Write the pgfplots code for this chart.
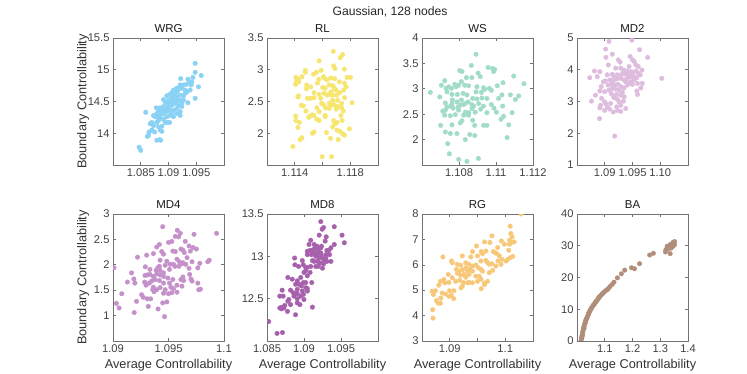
\documentclass[border=0pt]{standalone}
\usepackage{fontspec}
\setmainfont{Liberation Sans}
\usepackage{pgfplots}
\pgfplotsset{compat=1.18}
\definecolor{cWRG}{RGB}{138,210,245}
\definecolor{cRL}{RGB}{246,230,112}
\definecolor{cWS}{RGB}{160,220,198}
\definecolor{cMD2}{RGB}{222,188,222}
\definecolor{cMD4}{RGB}{196,145,202}
\definecolor{cMD8}{RGB}{166,96,172}
\definecolor{cRG}{RGB}{248,200,122}
\definecolor{cBA}{RGB}{176,142,122}
\pgfplotsset{
 base/.style={
  scale only axis, width=111bp, height=127bp, anchor=south west,
  axis line style={draw=black!55, line width=0.6bp},
  every tick/.style={black!55, line width=0.6bp},
  major tick length=3bp,
  tick align=inside, tick pos=both,
  xticklabel pos=lower, yticklabel pos=left,
  ticklabel style={font=\fontsize{11.2}{12}\selectfont, text=black!75},
  title style={font=\fontsize{11.5}{13}\selectfont, text=black!90, yshift=-4bp},
  label style={font=\fontsize{12.8}{14}\selectfont, text=black!80},
  ylabel style={at={(axis description cs:-0.27,0.5)}, anchor=center},
  xlabel style={at={(axis description cs:0.5,-0.19)}, anchor=center},
  clip marker paths=true,
  scaled ticks=false,
 },
 pts/.style={only marks, mark=*, mark size=2.3bp, color=#1, fill=#1, mark options={solid, line width=0.3bp}},
}
\begin{document}
\begin{tikzpicture}
\path[use as bounding box] (0,0) rectangle (747bp,374bp);
\node[font=\fontsize{12.2}{14}\selectfont, text=black!85] at (390bp,362bp) {Gaussian, 128 nodes};
% WRG
\begin{axis}[base, at={(113bp,209bp)}, title={WRG},
 xmin=1.08, xmax=1.1, ymin=13.5, ymax=15.5,
 xtick={1.085,1.09,1.095}, xticklabels={1.085,1.09,1.095},
 ytick={14,14.5,15,15.5}, yticklabels={14,14.5,15,15.5},
 ylabel={Boundary Controllability}]
\addplot[pts=cWRG] coordinates {
(1.0948,15.10) (1.0948,14.96) (1.0959,14.91) (1.0922,14.86) (1.0935,14.85) (1.0944,14.88)
(1.0954,14.73) (1.0937,14.79) (1.0941,14.76) (1.0932,14.77) (1.0927,14.76) (1.0921,14.76)
(1.0924,14.71) (1.0918,14.69) (1.0915,14.65) (1.0912,14.63) (1.0906,14.64) (1.0902,14.61)
(1.0897,14.59) (1.0891,14.53) (1.0894,14.49) (1.0900,14.52) (1.0909,14.55) (1.0915,14.57)
(1.0921,14.60) (1.0927,14.59) (1.0930,14.63) (1.0933,14.65) (1.0939,14.68) (1.0948,14.55)
(1.0935,14.48) (1.0924,14.47) (1.0918,14.44) (1.0912,14.47) (1.0906,14.44) (1.0900,14.42)
(1.0891,14.42) (1.0885,14.40) (1.0878,14.40) (1.0879,14.31) (1.0885,14.28) (1.0891,14.31)
(1.0897,14.34) (1.0903,14.28) (1.0909,14.26) (1.0915,14.31) (1.0921,14.34) (1.0921,14.28)
(1.0859,14.33) (1.0876,14.26) (1.0885,14.23) (1.0891,14.22) (1.0879,14.17) (1.0870,14.17)
(1.0867,14.15) (1.0873,14.12) (1.0882,14.10) (1.0888,14.11) (1.0894,14.17) (1.0898,14.17)
(1.0902,14.17) (1.0865,14.02) (1.0864,13.97) (1.0862,13.95) (1.0870,14.05) (1.0875,14.02)
(1.0885,14.05) (1.0888,14.03) (1.0879,13.89) (1.0884,13.90) (1.0886,13.89) (1.0847,13.78)
(1.0850,13.73) (1.0915,14.49) (1.0912,14.52) (1.0906,14.49) (1.0903,14.47) (1.0897,14.47)
(1.0915,14.39) (1.0909,14.36) (1.0903,14.36) (1.0897,14.38) (1.0894,14.36) (1.0882,14.34)
(1.0888,14.35) (1.0906,14.57) (1.0909,14.60) (1.0918,14.52) (1.0922,14.52) (1.0927,14.52)
(1.0930,14.68) (1.0942,14.81) (1.0915,14.71) (1.0909,14.68) (1.0924,14.42) (1.0906,14.31)
(1.0897,14.26) (1.0879,14.26) (1.0873,14.28) (1.0882,14.20)
};
\end{axis}
% RL
\begin{axis}[base, at={(267bp,209bp)}, title={RL},
 xmin=1.112, xmax=1.12, ymin=1.5, ymax=3.5,
 xtick={1.114,1.116,1.118}, xticklabels={1.114,,1.118},
 ytick={2,2.5,3,3.5}, yticklabels={2,2.5,3,3.5}]
\addplot[pts=cRL] coordinates {
(1.11678,3.29) (1.11745,3.24) (1.11728,3.19) (1.11576,3.14) (1.11680,3.06) (1.11690,3.02)
(1.11758,3.01) (1.11476,2.99) (1.11476,2.96) (1.11556,2.96) (1.11590,2.99) (1.11535,2.93)
(1.11452,2.89) (1.11408,2.88) (1.11425,2.85) (1.11413,2.82) (1.11430,2.81) (1.11406,2.77)
(1.11573,2.85) (1.11607,2.89) (1.11631,2.84) (1.11658,2.87) (1.11687,2.86) (1.11721,2.81)
(1.11777,2.88) (1.11801,2.88) (1.11758,2.79) (1.11770,2.73) (1.11486,2.76) (1.11515,2.73)
(1.11484,2.70) (1.11602,2.72) (1.11619,2.71) (1.11648,2.76) (1.11673,2.75) (1.11685,2.71)
(1.11697,2.68) (1.11661,2.65) (1.11648,2.61) (1.11673,2.60) (1.11704,2.60) (1.11724,2.64)
(1.11753,2.68) (1.11539,2.64) (1.11576,2.61) (1.11612,2.63) (1.11428,2.59) (1.11423,2.57)
(1.11539,2.56) (1.11758,2.56) (1.11813,2.48) (1.11648,2.47) (1.11661,2.44) (1.11678,2.46)
(1.11697,2.43) (1.11721,2.42) (1.11738,2.40) (1.11447,2.44) (1.11462,2.43) (1.11593,2.47)
(1.11607,2.45) (1.11559,2.40) (1.11481,2.35) (1.11576,2.34) (1.11624,2.40) (1.11648,2.39)
(1.11699,2.38) (1.11750,2.35) (1.11527,2.29) (1.11539,2.28) (1.11510,2.27) (1.11501,2.25)
(1.11619,2.28) (1.11619,2.26) (1.11406,2.27) (1.11408,2.20) (1.11433,2.17) (1.11559,2.22)
(1.11576,2.20) (1.11680,2.20) (1.11690,2.15) (1.11704,2.17) (1.11733,2.28) (1.11741,2.20)
(1.11423,2.09) (1.11673,2.10) (1.11704,2.05) (1.11726,2.03) (1.11745,1.99) (1.11758,1.97)
(1.11794,2.07) (1.11539,2.02) (1.11527,2.00) (1.11629,2.01) (1.11452,1.93) (1.11438,1.90)
(1.11658,1.92) (1.11714,1.90) (1.11387,1.79) (1.11598,1.63) (1.11665,1.63) (1.11612,2.87)
(1.11636,2.60) (1.11588,2.55) (1.11491,2.55) (1.11673,2.52) (1.11709,2.52) (1.11738,2.47)
(1.11515,2.55) (1.11564,2.79)
};
\end{axis}
% WS
\begin{axis}[base, at={(422bp,209bp)}, title={WS},
 xmin=1.106, xmax=1.112, ymin=1.5, ymax=4,
 xtick={1.108,1.11,1.112}, xticklabels={1.108,1.11,1.112},
 ytick={2,2.5,3,3.5,4}, yticklabels={2,2.5,3,3.5,4}]
\addplot[pts=cWS] coordinates {
(1.10892,3.68) (1.10867,3.46) (1.10804,3.36) (1.10816,3.34) (1.10957,3.42) (1.10982,3.40)
(1.10993,3.38) (1.10987,3.34) (1.10903,3.31) (1.10915,3.24) (1.10870,3.22) (1.10840,3.22)
(1.10813,3.14) (1.10723,3.16) (1.10705,3.07) (1.10744,3.04) (1.10777,3.09) (1.10784,3.04)
(1.10798,3.07) (1.10759,3.01) (1.10730,3.01) (1.10735,2.94) (1.10831,3.07) (1.10852,3.06)
(1.10897,3.04) (1.10933,3.02) (1.10939,2.99) (1.10964,3.01) (1.10975,2.97) (1.11007,3.06)
(1.11038,3.12) (1.11096,3.25) (1.11151,3.10) (1.10645,2.93) (1.10696,2.84) (1.10762,2.89)
(1.10791,2.89) (1.10822,2.91) (1.10843,2.88) (1.10892,2.94) (1.10921,2.93) (1.10924,2.82)
(1.10897,2.80) (1.10874,2.81) (1.10849,2.74) (1.10813,2.78) (1.10764,2.78) (1.10726,2.72)
(1.10762,2.70) (1.10712,2.56) (1.10726,2.58) (1.10735,2.64) (1.10755,2.66) (1.10768,2.62)
(1.10795,2.64) (1.10807,2.68) (1.10825,2.69) (1.10834,2.71) (1.10870,2.69) (1.10879,2.66)
(1.10906,2.71) (1.10932,2.66) (1.10975,2.69) (1.10989,2.62) (1.11036,2.66) (1.11078,2.88)
(1.11123,2.86) (1.11105,2.79) (1.11032,2.88) (1.11014,2.81) (1.10798,2.58) (1.10834,2.54)
(1.10843,2.51) (1.10852,2.53) (1.10852,2.48) (1.10825,2.48) (1.10780,2.49) (1.10753,2.47)
(1.10723,2.48) (1.10917,2.60) (1.10951,2.53) (1.11002,2.54) (1.11087,2.53) (1.11041,2.46)
(1.11027,2.40) (1.10816,2.37) (1.10807,2.33) (1.10762,2.29) (1.10701,2.28) (1.10874,2.38)
(1.10885,2.28) (1.10933,2.28) (1.10951,2.28) (1.11069,2.29) (1.10726,2.15) (1.10753,2.12)
(1.10789,2.12) (1.10858,2.10) (1.10885,2.08) (1.10834,2.00) (1.11060,2.04) (1.10739,1.92)
(1.10748,1.72) (1.10798,1.61) (1.10843,1.57) (1.10905,1.63) (1.10870,2.61) (1.10888,2.54)
(1.10789,2.74) (1.10951,2.81)
};
\end{axis}
% MD2
\begin{axis}[base, at={(577bp,209bp)}, title={MD2},
 xmin=1.085, xmax=1.105, ymin=1, ymax=5,
 xtick={1.09,1.095,1.1}, xticklabels={1.09,1.095,1.10},
 ytick={1,2,3,4,5}, yticklabels={1,2,3,4,5}]
\addplot[pts=cMD2] coordinates {
(1.09076,4.89) (1.09488,4.93) (1.09015,4.65) (1.09627,4.63) (1.09136,4.49) (1.09021,4.39)
(1.09457,4.42) (1.09500,4.31) (1.09530,4.26) (1.09773,4.39) (1.09064,4.15) (1.09245,4.31)
(1.09276,4.24) (1.09561,4.15) (1.09603,4.10) (1.09439,4.10) (1.09670,3.99) (1.08815,3.96)
(1.08912,3.94) (1.09197,4.05) (1.09288,4.05) (1.09348,3.99) (1.09409,3.96) (1.09482,3.94)
(1.09561,3.96) (1.09603,3.89) (1.08730,3.75) (1.08864,3.78) (1.09045,3.84) (1.09136,3.86)
(1.09167,3.78) (1.09227,3.84) (1.09318,3.89) (1.09379,3.86) (1.09439,3.84) (1.09500,3.89)
(1.09518,3.78) (1.09579,3.75) (1.09639,3.84) (1.10027,3.73) (1.08973,3.62) (1.09015,3.65)
(1.09094,3.68) (1.09154,3.65) (1.09215,3.71) (1.09288,3.73) (1.09348,3.68) (1.09409,3.73)
(1.09470,3.62) (1.09530,3.68) (1.09591,3.57) (1.09676,3.57) (1.08936,3.47) (1.09058,3.52)
(1.09118,3.54) (1.09179,3.52) (1.09239,3.54) (1.09288,3.47) (1.09348,3.43) (1.09409,3.52)
(1.09500,3.54) (1.09651,3.43) (1.08912,3.33) (1.08997,3.31) (1.09076,3.36) (1.09136,3.41)
(1.09197,3.39) (1.09258,3.36) (1.09318,3.29) (1.09579,3.33) (1.08833,3.20) (1.09118,3.25)
(1.09154,3.18) (1.09215,3.22) (1.09288,3.20) (1.09348,3.15) (1.09591,3.22) (1.08942,3.10)
(1.09167,3.12) (1.09227,3.07) (1.08761,3.01) (1.08997,2.99) (1.09015,2.94) (1.09106,2.94)
(1.09258,2.99) (1.09336,3.01) (1.08924,2.88) (1.09045,2.83) (1.09215,2.83) (1.09288,2.88)
(1.08912,2.80) (1.08997,2.72) (1.09088,2.76) (1.09154,2.67) (1.09227,2.72) (1.09379,2.78)
(1.09288,2.69) (1.08906,2.46) (1.09179,1.91) (1.09439,3.57) (1.09379,3.62) (1.09470,3.78)
(1.09300,3.84)
};
\end{axis}
% MD4
\begin{axis}[base, at={(113bp,33bp)}, title={MD4},
 xmin=1.09, xmax=1.1, ymin=0.5, ymax=3,
 xtick={1.09,1.095,1.1}, xticklabels={1.09,1.095,1.1},
 ytick={1,1.5,2,2.5,3}, yticklabels={1,1.5,2,2.5,3},
 ylabel={Boundary Controllability}, xlabel={Average Controllability}]
\addplot[pts=cMD4] coordinates {
(1.09448,2.75) (1.09579,2.68) (1.09606,2.62) (1.09561,2.56) (1.09591,2.55) (1.09730,2.60)
(1.09933,2.62) (1.09651,2.46) (1.09418,2.40) (1.09394,2.35) (1.09500,2.44) (1.09530,2.46)
(1.09364,2.22) (1.09303,2.19) (1.09221,2.15) (1.09439,2.26) (1.09455,2.21) (1.09424,2.09)
(1.09539,2.27) (1.09561,2.26) (1.09612,2.31) (1.09630,2.29) (1.09642,2.24) (1.09685,2.37)
(1.09721,2.34) (1.09751,2.31) (1.09697,2.27) (1.09485,2.07) (1.09515,2.01) (1.09576,2.11)
(1.09597,2.06) (1.09470,1.99) (1.09418,1.97) (1.09403,1.94) (1.09545,2.01) (1.09558,1.97)
(1.09594,1.97) (1.09630,2.04) (1.09667,2.14) (1.09712,2.06) (1.09782,2.03) (1.09854,2.06)
(1.09867,2.09) (1.09291,1.96) (1.09333,1.91) (1.09388,1.89) (1.09424,1.89) (1.09455,1.84)
(1.09509,1.91) (1.09685,1.93) (1.09691,1.81) (1.09764,1.94) (1.09009,1.94) (1.09167,1.84)
(1.09288,1.79) (1.09309,1.80) (1.09333,1.81) (1.09364,1.77) (1.09394,1.82) (1.09424,1.80)
(1.09455,1.77) (1.09494,1.74) (1.09630,1.76) (1.09703,1.72) (1.09285,1.66) (1.09327,1.64)
(1.09348,1.68) (1.09379,1.71) (1.09418,1.69) (1.09455,1.64) (1.09509,1.64) (1.09539,1.71)
(1.09612,1.71) (1.09636,1.69) (1.09712,1.68) (1.09764,1.64) (1.09130,1.66) (1.09188,1.72)
(1.09197,1.64) (1.09297,1.60) (1.09364,1.56) (1.09394,1.51) (1.09424,1.55) (1.09470,1.51)
(1.09521,1.56) (1.09545,1.53) (1.09576,1.60) (1.09621,1.58) (1.09773,1.51) (1.09788,1.52)
(1.09079,1.43) (1.09258,1.41) (1.09273,1.36) (1.09309,1.33) (1.09339,1.33) (1.09358,1.51)
(1.09370,1.47) (1.09455,1.44) (1.09500,1.43) (1.09530,1.45) (1.09576,1.46) (1.09030,1.24)
(1.09055,1.15) (1.09212,1.28) (1.09318,1.18) (1.09406,1.13) (1.09448,1.25) (1.09485,1.27)
(1.09191,1.06) (1.09464,0.98) (1.09621,2.02) (1.09655,2.01)
};
\end{axis}
% MD8
\begin{axis}[base, at={(267bp,33bp)}, title={MD8},
 xmin=1.085, xmax=1.1, ymin=12, ymax=13.5,
 xtick={1.085,1.09,1.095}, xticklabels={1.085,1.09,1.095},
 ytick={12.5,13,13.5}, yticklabels={12.5,13,13.5},
 xlabel={Average Controllability}]
\addplot[pts=cMD8] coordinates {
(1.09227,13.41) (1.09264,13.34) (1.09245,13.32) (1.09409,13.35) (1.09514,13.25) (1.09545,13.16)
(1.09205,13.25) (1.09300,13.23) (1.09286,13.18) (1.09091,13.19) (1.09068,13.14) (1.09136,13.14)
(1.09173,13.12) (1.09236,13.12) (1.09409,13.14) (1.09364,13.10) (1.09336,13.07) (1.09309,13.07)
(1.09045,13.06) (1.09082,13.07) (1.09114,13.07) (1.09136,13.04) (1.09182,13.03) (1.09227,13.04)
(1.09295,13.02) (1.09345,13.02) (1.09236,13.00) (1.09205,12.98) (1.09159,13.00) (1.09100,13.02)
(1.09045,13.02) (1.09114,12.95) (1.09136,12.94) (1.09182,12.94) (1.09218,12.92) (1.09264,12.91)
(1.09309,12.94) (1.09364,12.94) (1.08873,12.98) (1.08977,12.95) (1.08877,12.90) (1.08927,12.88)
(1.08991,12.90) (1.09023,12.87) (1.09045,12.87) (1.09091,12.88) (1.09159,12.88) (1.09191,12.88)
(1.09250,12.86) (1.09082,12.81) (1.09023,12.83) (1.09000,12.81) (1.09045,12.77) (1.08955,12.75)
(1.08782,12.75) (1.08841,12.73) (1.08909,12.71) (1.08991,12.69) (1.09023,12.69) (1.09105,12.69)
(1.08886,12.67) (1.08932,12.67) (1.08964,12.65) (1.09023,12.63) (1.09045,12.62) (1.08909,12.61)
(1.08818,12.60) (1.08705,12.60) (1.08855,12.57) (1.08886,12.56) (1.08909,12.56) (1.08977,12.59)
(1.09045,12.59) (1.08955,12.53) (1.09000,12.49) (1.08795,12.49) (1.08782,12.47) (1.08673,12.53)
(1.08718,12.53) (1.08818,12.43) (1.08909,12.45) (1.08945,12.43) (1.08741,12.42) (1.08705,12.40)
(1.08673,12.39) (1.08695,12.38) (1.08727,12.39) (1.08777,12.35) (1.08886,12.31) (1.09114,12.40)
(1.08523,12.23) (1.08636,12.09) (1.08709,12.10) (1.09127,13.08) (1.09159,13.10) (1.09191,13.07)
(1.09227,13.10) (1.09264,12.96) (1.09295,12.98) (1.08864,12.53) (1.08991,12.55) (1.08909,12.50)
};
\end{axis}
% RG
\begin{axis}[base, at={(422bp,33bp)}, title={RG},
 xmin=1.085, xmax=1.105, ymin=3, ymax=8,
 xtick={1.09,1.095,1.1}, xticklabels={1.09,,1.1},
 ytick={3,4,5,6,7,8}, yticklabels={3,4,5,6,7,8},
 xlabel={Average Controllability}]
\addplot[pts=cRG] coordinates {
(1.10288,8.00) (1.10088,7.52) (1.10100,7.23) (1.10124,7.10) (1.10076,6.97) (1.10112,6.88)
(1.10160,6.90) (1.10076,6.81) (1.10063,6.57) (1.10088,6.28) (1.10136,6.33) (1.09760,7.14)
(1.09930,6.94) (1.09724,6.88) (1.09627,6.90) (1.09985,6.81) (1.09863,6.68) (1.09482,6.74)
(1.09409,6.52) (1.09567,6.52) (1.09591,6.44) (1.09651,6.54) (1.09785,6.52) (1.09815,6.48)
(1.09845,6.44) (1.09894,6.35) (1.09870,6.15) (1.09942,6.21) (1.10045,6.21) (1.09227,6.35)
(1.09379,6.31) (1.09500,6.35) (1.09561,6.15) (1.09651,6.17) (1.09682,6.08) (1.09712,6.02)
(1.09760,6.04) (1.09833,5.95) (1.09924,6.02) (1.10015,6.15) (1.08876,6.31) (1.09033,6.15)
(1.09045,6.08) (1.09136,6.02) (1.09197,5.98) (1.09288,6.08) (1.09348,6.02) (1.09409,5.95)
(1.09470,5.99) (1.09518,5.88) (1.09561,5.82) (1.09591,5.75) (1.09712,5.69) (1.09773,5.78)
(1.09118,5.82) (1.09167,5.75) (1.09227,5.80) (1.09288,5.88) (1.09318,5.75) (1.09348,5.62)
(1.09258,5.62) (1.09197,5.59) (1.09136,5.67) (1.09409,5.75) (1.09361,5.82) (1.08973,5.62)
(1.09045,5.49) (1.09106,5.35) (1.09179,5.39) (1.09245,5.30) (1.09348,5.31) (1.09409,5.29)
(1.09500,5.35) (1.09561,5.43) (1.09621,5.28) (1.09682,5.35) (1.08894,5.42) (1.08912,5.29)
(1.08985,5.31) (1.09203,5.09) (1.09227,5.16) (1.09318,5.29) (1.09567,5.06) (1.09627,5.22)
(1.08803,5.20) (1.08833,5.35) (1.08682,4.96) (1.08742,4.98) (1.08706,4.83) (1.08864,4.89)
(1.08924,4.85) (1.08985,4.76) (1.09027,4.80) (1.09070,4.67) (1.08839,4.69) (1.08761,4.59)
(1.08791,4.49) (1.08833,4.49) (1.08694,4.23) (1.08700,3.90) (1.08997,4.98) (1.09076,4.98)
(1.09470,5.55) (1.09530,5.55) (1.09288,5.51)
};
\end{axis}
% BA
\begin{axis}[base, at={(577bp,33bp)}, title={BA},
 xmin=1.0, xmax=1.4, ymin=0, ymax=40,
 xtick={1.1,1.2,1.3,1.4}, xticklabels={1.1,1.2,1.3,1.4},
 ytick={0,10,20,30,40}, yticklabels={0,10,20,30,40},
 xlabel={Average Controllability}]
\addplot[pts=cBA] coordinates {
(1.0145,0.0) (1.0158,0.63) (1.0170,1.16) (1.0182,1.69) (1.0194,2.22) (1.0206,2.75)
(1.0218,3.28) (1.0230,3.81) (1.0242,4.34) (1.0267,4.87) (1.0279,5.40) (1.0303,5.93)
(1.0315,6.46) (1.0339,6.98) (1.0364,7.41) (1.0388,7.94) (1.0412,8.47) (1.0436,9.00)
(1.0461,9.42) (1.0485,9.84) (1.0521,10.37) (1.0558,10.90) (1.0594,11.32) (1.0630,11.75)
(1.0667,12.17) (1.0703,12.59) (1.0739,13.02) (1.0776,13.44) (1.0812,13.86) (1.0848,14.29)
(1.0897,14.71) (1.0945,15.13) (1.0994,15.56) (1.1055,15.98) (1.1127,16.51) (1.1188,17.14)
(1.1273,17.88) (1.1333,18.52) (1.1455,19.89) (1.1600,21.16) (1.1721,22.33) (1.1964,23.07)
(1.2073,22.75) (1.2255,24.34) (1.2618,27.09) (1.2752,27.62) (1.3188,28.04) (1.3200,28.68)
(1.3358,27.51) (1.3273,29.42) (1.3333,29.95) (1.3394,30.48) (1.3455,31.01) (1.3515,31.32)
(1.3406,29.42) (1.3467,29.84) (1.3370,29.21) (1.3515,30.37) (1.3430,30.05) (1.3248,28.78)
(1.3248,29.84) (1.3491,30.90) (1.3345,30.26) (1.3224,28.89) (1.0170,0.85) (1.0194,1.69)
(1.0255,4.02) (1.0291,5.61) (1.0327,6.67) (1.0424,8.68) (1.0509,10.16) (1.0606,11.43)
(1.0679,12.38) (1.0788,13.76) (1.0921,14.92) (1.1091,16.19)
};
\end{axis}
\end{tikzpicture}
\end{document}
